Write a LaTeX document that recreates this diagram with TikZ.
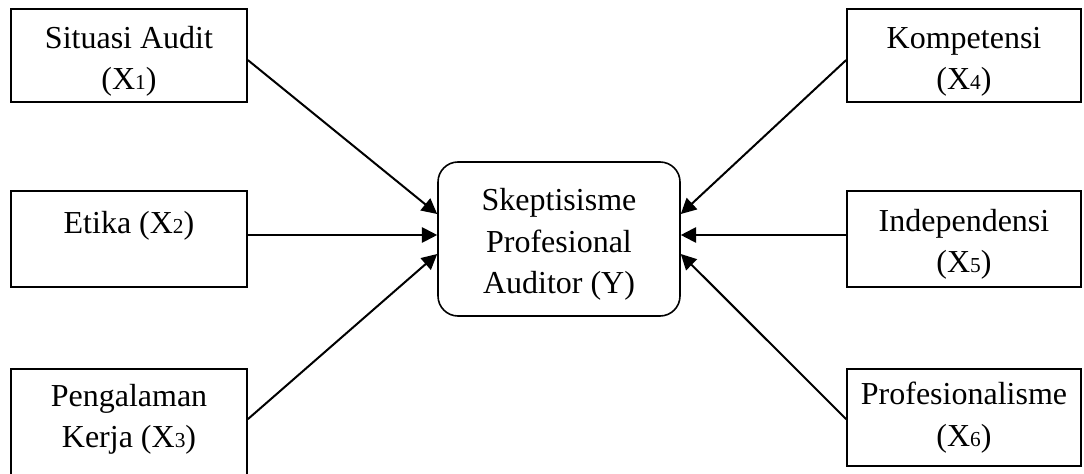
\documentclass[tikz,border=0pt]{standalone}
\usepackage{fontspec}
\setmainfont{Liberation Serif}
\usetikzlibrary{arrows.meta}
\newcommand\sdig[1]{{\fontsize{16}{16}\selectfont #1}}
\newcommand\tstrut{\rule{0pt}{25pt}}
\begin{document}
\begin{tikzpicture}[x=0.75pt,y=-0.75pt,
  txt/.style={align=center, inner sep=0pt, font=\fontsize{24}{31}\selectfont},
  box/.style={txt, draw, line width=1.2pt, minimum width=177pt},
  arr/.style={line width=1.5pt, -{Triangle[length=11.5pt,width=11.5pt]}}]
\useasboundingbox (0,0) rectangle (1084,474);
\node[box, minimum height=69.75pt] (b1) at (129,55.5) {\tstrut Situasi Audit\\(X\sdig{1})};
\node[box, minimum height=72pt] (b2) at (129,239) {\rule{0pt}{22pt}Etika (X\sdig{2})\\\mbox{}};
\node[box, minimum height=90.75pt] (b3) at (129,429.5) {};
\node[txt] (t3) at (129,419) {Pengalaman\\Kerja (X\sdig{3})};
\node[box, minimum width=175.5pt, minimum height=69.75pt] (b4) at (964,55.5) {\tstrut Kompetensi\\(X\sdig{4})};
\node[box, minimum width=175.5pt, minimum height=72pt] (b5) at (964,239) {\tstrut Independensi\\(X\sdig{5})};
\node[box, minimum width=175.5pt, minimum height=72.75pt] (b6) at (964,417.5) {Profesionalisme\\(X\sdig{6})};
\node[box, rounded corners=15pt, minimum width=181.5pt, minimum height=115.5pt] (y) at (559,239) {\tstrut Skeptisisme\\Profesional\\Auditor (Y)};
\draw[arr] ([yshift=-3.4pt]b1.east) -- ([yshift=18.75pt]y.west);
\draw[arr] ([yshift=3pt]b2.east) -- ([yshift=3pt]y.west);
\draw[arr] ([yshift=-38.25pt]b3.north east) -- ([yshift=-11.25pt]y.west);
\draw[arr] ([yshift=-3.4pt]b4.west) -- ([yshift=18.75pt]y.east);
\draw[arr] ([yshift=3pt]b5.west) -- ([yshift=3pt]y.east);
\draw[arr] ([yshift=-38.25pt]b6.north west) -- ([yshift=-11.25pt]y.east);
\end{tikzpicture}
\end{document}
